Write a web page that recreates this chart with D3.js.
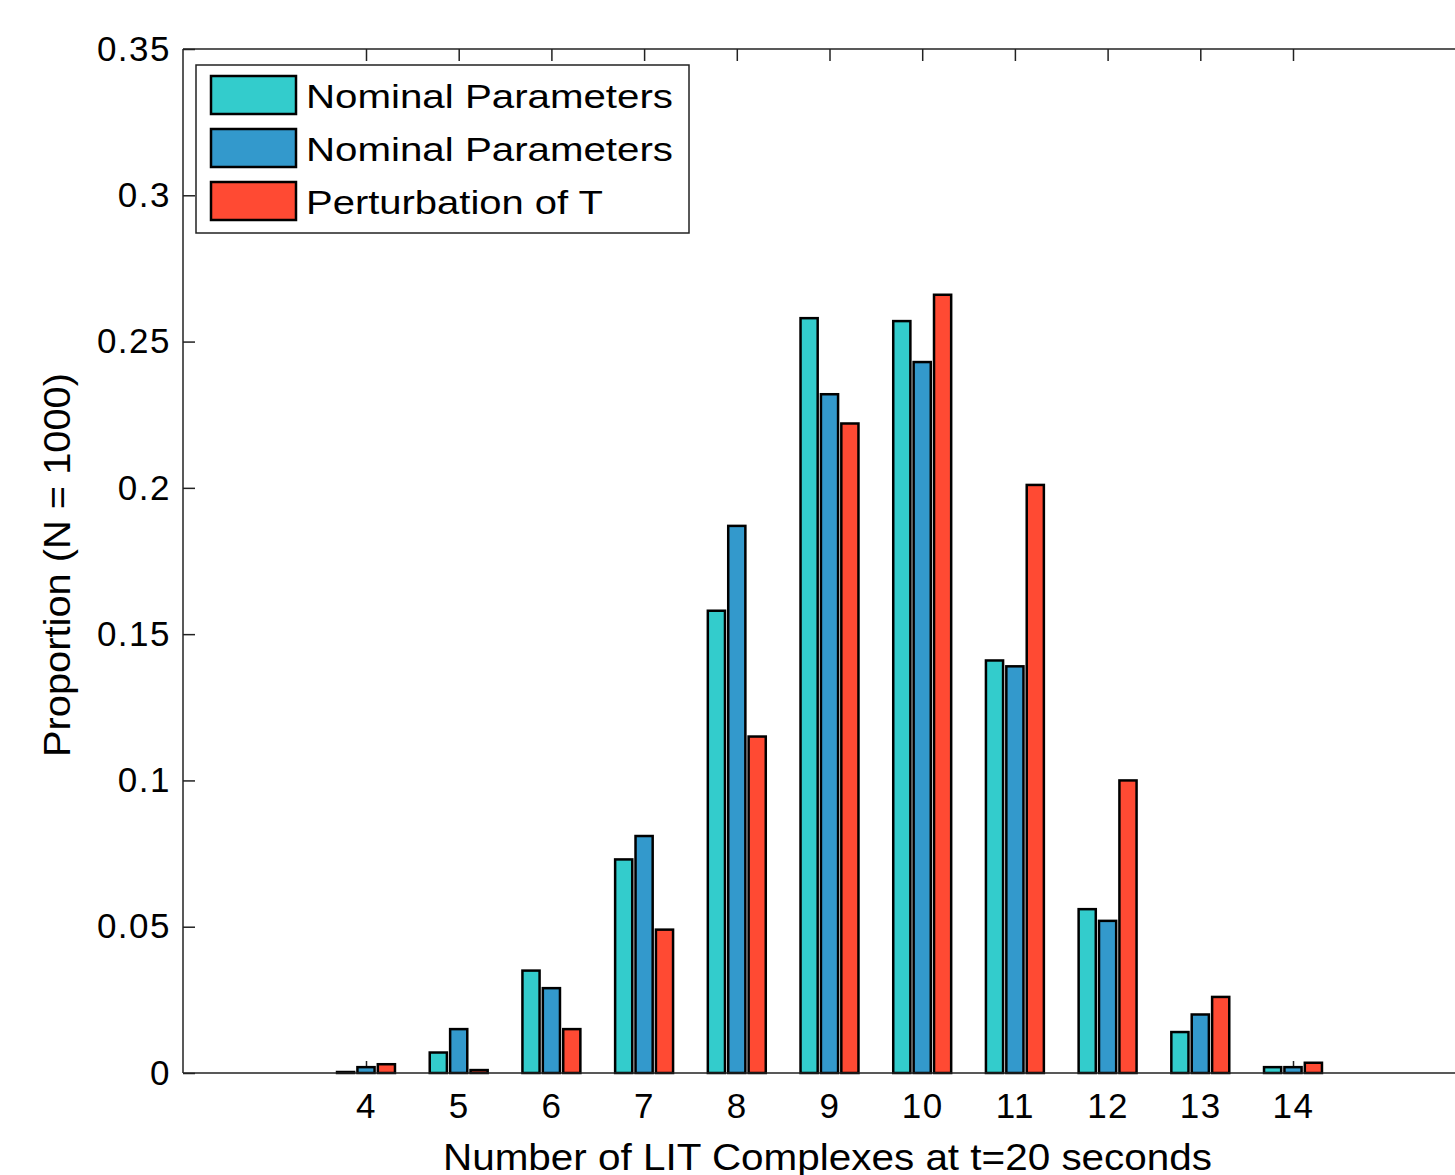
<!DOCTYPE html>
<html>
<head>
<meta charset="utf-8">
<script src="https://cdn.jsdelivr.net/npm/d3@7"></script>
<style>
  body { margin: 0; background: #fff; }
  svg { display: block; font-family: "Liberation Sans", Arial, sans-serif; }
</style>
</head>
<body>
<div id="chart"></div>
<script>
const counts = [4, 5, 6, 7, 8, 9, 10, 11, 12, 13, 14];
const seriesNames = ["Nominal Parameters", "Nominal Parameters", "Perturbation of T"];
const nominalA = [0.000, 0.007, 0.035, 0.073, 0.158, 0.258, 0.257, 0.141, 0.056, 0.014, 0.002];
const nominalB = [0.002, 0.015, 0.029, 0.081, 0.187, 0.232, 0.243, 0.139, 0.052, 0.020, 0.002];
const perturbT = [0.003, 0.001, 0.015, 0.049, 0.115, 0.222, 0.266, 0.201, 0.100, 0.026, 0.0035];
const yTicks = [0, 0.05, 0.1, 0.15, 0.2, 0.25, 0.3, 0.35];
const colors = ["#33CCCC", "#3399CC", "#FF4A33"];

const width = 1455, height = 1175;
const plotLeft = 183, plotTop = 49, plotBottom = 1073;

const svg = d3.select("#chart").append("svg")
  .attr("width", width)
  .attr("height", height);

const x = d3.scaleLinear().domain([4, 14]).range([366, 1293]);
const y = d3.scaleLinear().domain([0, 0.35]).range([plotBottom, plotTop]);

const series = [nominalA, nominalB, perturbT];
const barW = 0.185;
const offsets = [-0.22, 0, 0.22];

// axes (ticks point inward, drawn before bars)
const axisFont = g => g.selectAll("text")
  .style("font-size", "35px")
  .style("letter-spacing", "1.5px")
  .style("fill", "#000");

svg.append("g")
  .attr("transform", `translate(0,${plotBottom})`)
  .call(d3.axisBottom(x).tickValues(counts).tickFormat(d3.format("d"))
    .tickSize(-12).tickSizeOuter(0).tickPadding(20))
  .call(axisFont)
  .call(g => g.select(".domain").remove())
  .call(g => g.selectAll("line").attr("stroke", "#222").attr("stroke-width", 1.5));

svg.append("g")
  .attr("transform", `translate(0,${plotTop})`)
  .call(d3.axisTop(x).tickValues(counts).tickFormat("")
    .tickSize(-12).tickSizeOuter(0))
  .call(g => g.select(".domain").remove())
  .call(g => g.selectAll("line").attr("stroke", "#222").attr("stroke-width", 1.5));

svg.append("g")
  .attr("transform", `translate(${plotLeft},0)`)
  .call(d3.axisLeft(y).tickValues(yTicks).tickFormat(d => d === 0 ? "0" : d3.format("~g")(d))
    .tickSize(-12).tickSizeOuter(0).tickPadding(12))
  .call(axisFont)
  .call(g => g.select(".domain").remove())
  .call(g => g.selectAll("line").attr("stroke", "#222").attr("stroke-width", 1.5));

// bars (zero values still show as a flat outline)
series.forEach((vals, si) => {
  svg.append("g").selectAll("rect")
    .data(vals)
    .enter()
    .append("rect")
    .attr("x", (d, i) => x(counts[i] + offsets[si] - barW / 2))
    .attr("width", x(barW) - x(0))
    .attr("y", d => Math.min(y(d), plotBottom - 1))
    .attr("height", d => Math.max(y(0) - y(d), 1))
    .attr("fill", colors[si])
    .attr("stroke", "#000")
    .attr("stroke-width", 2.5);
});

// box lines
svg.append("line")
  .attr("x1", plotLeft).attr("x2", width)
  .attr("y1", plotBottom).attr("y2", plotBottom)
  .attr("stroke", "#222").attr("stroke-width", 1.5);
svg.append("line")
  .attr("x1", plotLeft).attr("x2", width)
  .attr("y1", plotTop).attr("y2", plotTop)
  .attr("stroke", "#222").attr("stroke-width", 1.5);
svg.append("line")
  .attr("x1", plotLeft).attr("x2", plotLeft)
  .attr("y1", plotTop).attr("y2", plotBottom)
  .attr("stroke", "#222").attr("stroke-width", 1.5);

// axis titles
svg.append("text")
  .attr("x", 827.5)
  .attr("y", 1170)
  .attr("text-anchor", "middle")
  .attr("textLength", 769)
  .attr("lengthAdjust", "spacingAndGlyphs")
  .style("font-size", "37px")
  .text("Number of LIT Complexes at t=20 seconds");

svg.append("text")
  .attr("transform", "translate(70,565) rotate(-90)")
  .attr("text-anchor", "middle")
  .attr("textLength", 384)
  .attr("lengthAdjust", "spacingAndGlyphs")
  .style("font-size", "36px")
  .text("Proportion (N = 1000)");

// legend
const legend = svg.append("g").attr("transform", "translate(196,65)");
legend.append("rect")
  .attr("width", 493).attr("height", 168)
  .attr("fill", "#fff").attr("stroke", "#222").attr("stroke-width", 1.5);

const legendWidths = [367, 367, 297];
seriesNames.forEach((name, i) => {
  const row = legend.append("g").attr("transform", `translate(0,${i * 53})`);
  row.append("rect")
    .attr("x", 15).attr("y", 11)
    .attr("width", 85).attr("height", 38)
    .attr("fill", colors[i])
    .attr("stroke", "#000").attr("stroke-width", 2.5);
  row.append("text")
    .attr("x", 110).attr("y", 43)
    .attr("textLength", legendWidths[i])
    .attr("lengthAdjust", "spacingAndGlyphs")
    .style("font-size", "34px")
    .text(name);
});
</script>
</body>
</html>
